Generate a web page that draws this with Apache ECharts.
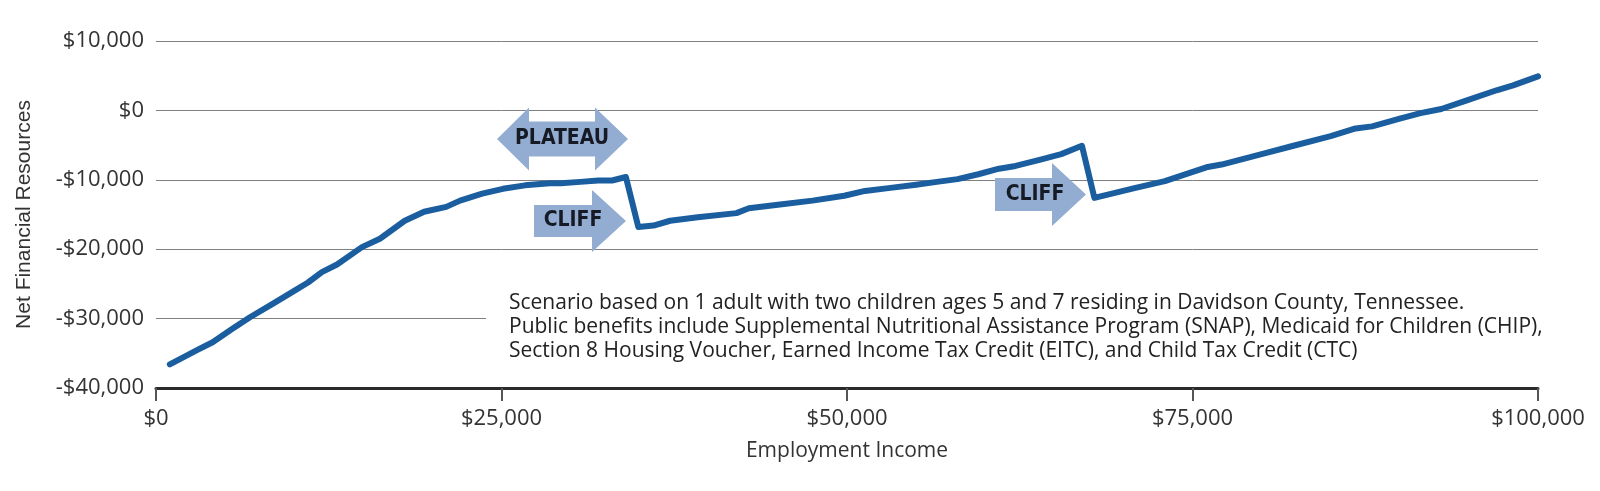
<!DOCTYPE html>
<html>
<head>
<meta charset="utf-8">
<title>Net Financial Resources</title>
<script src="https://cdn.jsdelivr.net/npm/echarts@6/dist/echarts.min.js"></script>
<style>
  html, body { margin: 0; padding: 0; background: #fff; }
  #main { width: 1600px; height: 491px; }
</style>
</head>
<body>
<div id="main"></div>
<script>
// 收入（横轴）
var income = [1000, 3000, 4100, 5500, 6800, 8500, 10000, 11000, 12000, 13100,
  14900, 16200, 18000, 19400, 21000, 22000, 23600, 25100, 26700, 28500,
  29300, 30700, 32000, 33000, 34000, 34900, 36000, 37200, 39200, 42000,
  42900, 45000, 47500, 49800, 51300, 53000, 55000, 56500, 58000, 59500,
  61000, 62200, 64000, 65500, 67000, 67900, 70800, 73000, 76000, 77100,
  80000, 82100, 85000, 86800, 88000, 90000, 91500, 93000, 94800, 97000,
  98200, 100000];
// 净财务资源
var netResources = [-36600, -34500, -33400, -31500, -29800, -27800, -26000, -24800, -23300, -22200,
  -19700, -18500, -15900, -14600, -13900, -13000, -12000, -11300, -10800, -10500,
  -10500, -10300, -10100, -10100, -9600, -16800, -16600, -15900, -15400, -14800,
  -14100, -13600, -13000, -12300, -11600, -11200, -10700, -10300, -9900, -9200,
  -8400, -8000, -7100, -6300, -5100, -12600, -11200, -10200, -8200, -7800,
  -6300, -5200, -3700, -2600, -2300, -1200, -400, 200, 1400, 2900,
  3600, 4900];
var noteLines = [
  'Scenario based on 1 adult with two children ages 5 and 7 residing in Davidson County, Tennessee.',
  'Public benefits include Supplemental Nutritional Assistance Program (SNAP), Medicaid for Children (CHIP),',
  'Section 8 Housing Voucher, Earned Income Tax Credit (EITC), and Child Tax Credit (CTC)'
];

var chart = echarts.init(document.getElementById('main'));
var arrowColor = '#92add1';
var tickFont = '"Open Sans", "Noto Sans", sans-serif';

function money(v) {
  var s = '$' + Math.abs(v).toLocaleString('en-US');
  return v < 0 ? '-' + s : s;
}

//箭头形状
function rightArrow(x0, xBase, xTip, cy, shaftH, headH) {
  return [[x0, cy - shaftH / 2], [xBase, cy - shaftH / 2], [xBase, cy - headH / 2], [xTip, cy],
    [xBase, cy + headH / 2], [xBase, cy + shaftH / 2], [x0, cy + shaftH / 2]];
}
function doubleArrow(xL, bL, bR, xR, cy, shaftH, headH) {
  return [[xL, cy], [bL, cy - headH / 2], [bL, cy - shaftH / 2], [bR, cy - shaftH / 2],
    [bR, cy - headH / 2], [xR, cy], [bR, cy + headH / 2], [bR, cy + shaftH / 2],
    [bL, cy + shaftH / 2], [bL, cy + headH / 2]];
}
function label(text, x, y) {
  return {
    type: 'text', z: 20, x: x, y: y,
    style: {
      text: text, fill: '#161a24', align: 'center', verticalAlign: 'middle',
      font: 'bold 21px "DejaVu Sans Condensed", "Liberation Sans Narrow", sans-serif'
    }
  };
}

var option = {
  animation: false,
  grid: { left: 156, right: 62, top: 41, bottom: 103 },
  xAxis: {
    type: 'value', min: 0, max: 100000, interval: 25000,
    name: 'Employment Income', nameLocation: 'middle', nameGap: 53,
    nameTextStyle: { fontFamily: tickFont, fontSize: 21, color: '#333' },
    axisLine: { show: true, onZero: false, lineStyle: { color: '#2a2a2a', width: 3 } },
    axisTick: { show: true, length: 13, lineStyle: { color: '#555', width: 2 } },
    axisLabel: { formatter: money, margin: 20, fontFamily: tickFont, fontSize: 22, color: '#333' },
    splitLine: { show: false }
  },
  yAxis: {
    type: 'value', min: -40000, max: 10000, interval: 10000,
    name: 'Net Financial Resources', nameLocation: 'middle', nameGap: 121,
    nameTextStyle: { fontFamily: '"Liberation Sans", Arial, sans-serif', fontSize: 21, color: '#333' },
    axisLine: { show: false },
    axisTick: { show: false },
    axisLabel: { formatter: money, margin: 12, fontFamily: tickFont, fontSize: 22, color: '#333' },
    splitLine: { lineStyle: { color: '#808080', width: 1 } }
  },
  series: [{
    type: 'line',
    data: income.map(function (x, i) { return [x, netResources[i]]; }),
    showSymbol: false,
    lineStyle: { color: '#1b5e9f', width: 6, cap: 'round', join: 'round' },
    z: 5
  }],
  graphic: [
    // 注释背景，盖住网格线
    { type: 'rect', z: 10, shape: { x: 486, y: 286, width: 1052, height: 84 }, style: { fill: '#fff' } },
    {
      type: 'text', z: 11, x: 509, y: 291,
      style: {
        text: noteLines.join('\n'), fill: '#222', lineHeight: 24,
        font: '21px "Open Sans", "Noto Sans", sans-serif'
      }
    },
    { type: 'polygon', z: 15, shape: { points: doubleArrow(497, 529, 595, 628, 139, 35, 63) }, style: { fill: arrowColor } },
    label('PLATEAU', 562, 139),
    { type: 'polygon', z: 15, shape: { points: rightArrow(534, 592, 626, 221, 32, 62) }, style: { fill: arrowColor } },
    label('CLIFF', 573, 221),
    { type: 'polygon', z: 15, shape: { points: rightArrow(995, 1052, 1086, 194.5, 33, 63) }, style: { fill: arrowColor } },
    label('CLIFF', 1035, 194.5)
  ]
};
chart.setOption(option);
</script>
</body>
</html>
